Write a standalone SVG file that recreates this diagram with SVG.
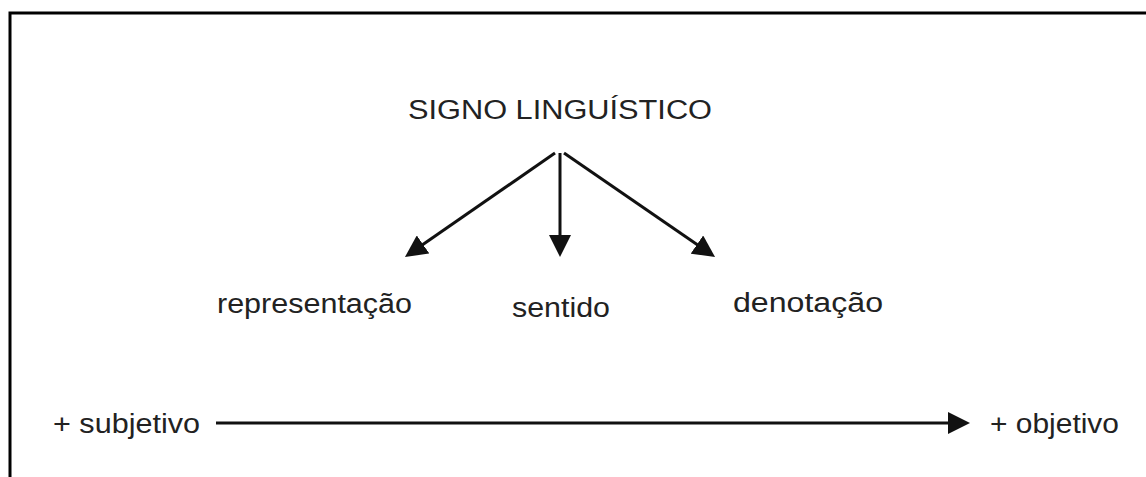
<svg xmlns="http://www.w3.org/2000/svg" width="1146" height="477" viewBox="0 0 1146 477">
<style>
.t{font-family:"Liberation Sans",Arial,sans-serif;font-size:27px;fill:#222}
.c{stroke:#111;stroke-width:3;fill:none}
</style>
<defs>
<marker id="ah" markerUnits="userSpaceOnUse" markerWidth="22" markerHeight="22" refX="16" refY="11" orient="auto">
<path d="M0,0 L22,11 L0,22 z" fill="#111"/>
</marker>
</defs>
<rect width="1146" height="477" fill="#fff"/>
<path d="M10,477 V13 H1146" stroke="#000" stroke-width="3" fill="none"/>
<g id="signo"><text class="t" x="408" y="119" font-size="26" textLength="304" lengthAdjust="spacingAndGlyphs">SIGNO LINGUÍSTICO</text></g>
<g id="representacao"><text class="t" x="217" y="313" textLength="195" lengthAdjust="spacingAndGlyphs">representação</text></g>
<g id="sentido"><text class="t" x="512" y="317" textLength="98" lengthAdjust="spacingAndGlyphs">sentido</text></g>
<g id="denotacao"><text class="t" x="733" y="312" textLength="150" lengthAdjust="spacingAndGlyphs">denotação</text></g>
<g id="subjetivo"><text class="t" x="53" y="433" font-size="28" textLength="147" lengthAdjust="spacingAndGlyphs">+ subjetivo</text></g>
<g id="objetivo"><text class="t" x="990" y="433" font-size="28" textLength="129" lengthAdjust="spacingAndGlyphs">+ objetivo</text></g>
<g id="connectors">
<line class="c" x1="555" y1="153" x2="409.9" y2="253.6" marker-end="url(#ah)"/>
<line class="c" x1="560" y1="153" x2="560" y2="251" marker-end="url(#ah)"/>
<line class="c" x1="564" y1="153" x2="710.1" y2="253.6" marker-end="url(#ah)"/>
<line class="c" x1="216" y1="423" x2="964" y2="423" marker-end="url(#ah)"/>
</g>
</svg>
